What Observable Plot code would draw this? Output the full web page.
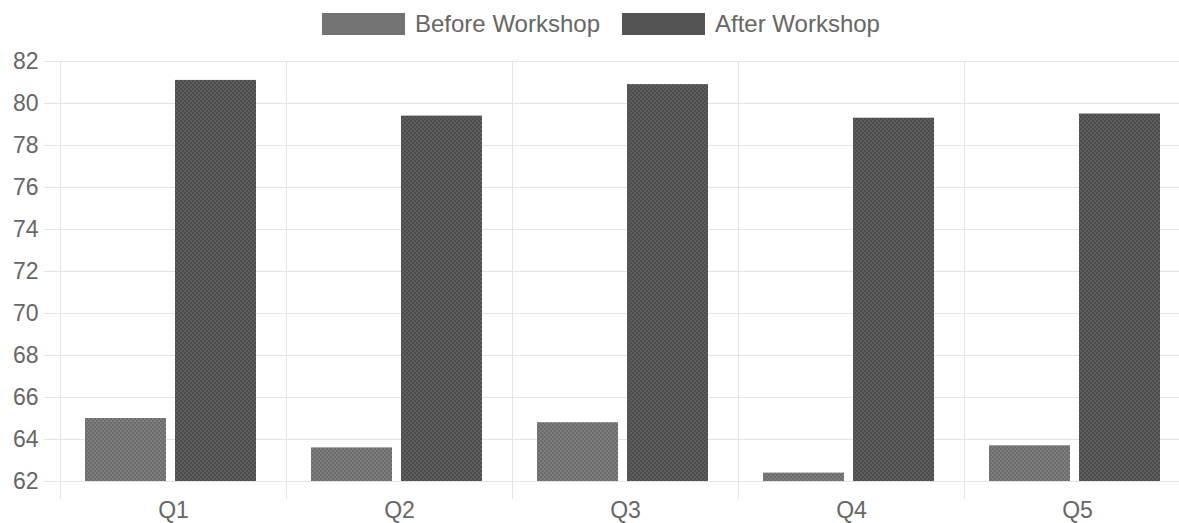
<!DOCTYPE html>
<html>
<head>
<meta charset="utf-8">
<script src="https://cdn.jsdelivr.net/npm/d3@7"></script>
<script src="https://cdn.jsdelivr.net/npm/@observablehq/plot@0.6"></script>
<style>
  body { margin: 0; background: #fff; font-family: "Liberation Sans", Arial, sans-serif; }
  #legend { position: relative; height: 40px; width: 1179px; }
  .item { position: absolute; top: 12px; display: flex; align-items: center; height: 24px; color: #666; font-size: 24px; }
  .sw { width: 83px; height: 22px; margin-right: 10px; }
  #chart { width: 1179px; overflow: hidden; }
</style>
</head>
<body>
<div id="legend"></div>
<div id="chart"></div>
<script>
const questions = ["Q1", "Q2", "Q3", "Q4", "Q5"];
const beforeScores = [65.0, 63.6, 64.8, 62.4, 63.7];
const afterScores = [81.1, 79.4, 80.9, 79.3, 79.5];
const seriesNames = ["Before Workshop", "After Workshop"];
const yTicks = [62, 64, 66, 68, 70, 72, 74, 76, 78, 80, 82];

const rows = questions.flatMap((q, i) => [
  {question: q, series: seriesNames[0], score: beforeScores[i]},
  {question: q, series: seriesNames[1], score: afterScores[i]}
]);

// legend
const legend = d3.select("#legend");
const legendLeft = [322, 622];
seriesNames.forEach((name, i) => {
  const item = legend.append("div").attr("class", "item").style("left", legendLeft[i] + "px");
  const sw = item.append("svg").attr("class", "sw").attr("width", 83).attr("height", 22);
  sw.append("rect").attr("width", 83).attr("height", 22).attr("fill", i === 0 ? "#737373" : "#545454");
  item.append("span").text(name);
});

const plot = Plot.plot({
  width: 1179,
  height: 483,
  marginTop: 21,
  marginBottom: 42,
  marginLeft: 59,
  marginRight: -12,
  style: {fontFamily: "'Liberation Sans', Arial, sans-serif", fontSize: "23px", color: "#666", background: "white"},
  fx: {domain: questions, padding: 0, label: null},
  x: {domain: seriesNames, paddingInner: 0.1, paddingOuter: 0.3, axis: null},
  y: {domain: [62, 82], label: null},
  marks: [
    Plot.gridY(yTicks, {stroke: "#e4e4e4", strokeOpacity: 1}),
    Plot.frame({anchor: "left", stroke: "#e4e4e4", insetBottom: -17}),
    Plot.axisY(yTicks, {tickSize: 16, tickPadding: 6, stroke: "#e4e4e4", color: "#666", label: null}),
    Plot.axisFx({anchor: "bottom", tickSize: 0, tickPadding: 20, label: null, color: "#666"}),
    Plot.barY(rows.filter(d => d.series === seriesNames[0]), {fx: "question", x: "series", y1: 62, y2: "score", fill: "url(#pBefore)", dx: -3}),
    Plot.barY(rows.filter(d => d.series === seriesNames[1]), {fx: "question", x: "series", y1: 62, y2: "score", fill: "url(#pAfter)", dx: -3})
  ]
});

const svg = d3.select(plot);
const defs = svg.insert("defs", ":first-child");
function pattern(id, base, dot) {
  const p = defs.append("pattern").attr("id", id).attr("width", 4).attr("height", 4).attr("patternUnits", "userSpaceOnUse");
  p.append("rect").attr("width", 4).attr("height", 4).attr("fill", base);
  p.append("rect").attr("x", 0).attr("y", 0).attr("width", 2).attr("height", 2).attr("fill", dot);
  p.append("rect").attr("x", 2).attr("y", 2).attr("width", 2).attr("height", 2).attr("fill", dot);
}
pattern("pBefore", "#6c6c6c", "#7d7d7d");
pattern("pAfter", "#4c4c4c", "#5e5e5e");

document.getElementById("chart").append(plot);
</script>
</body>
</html>
